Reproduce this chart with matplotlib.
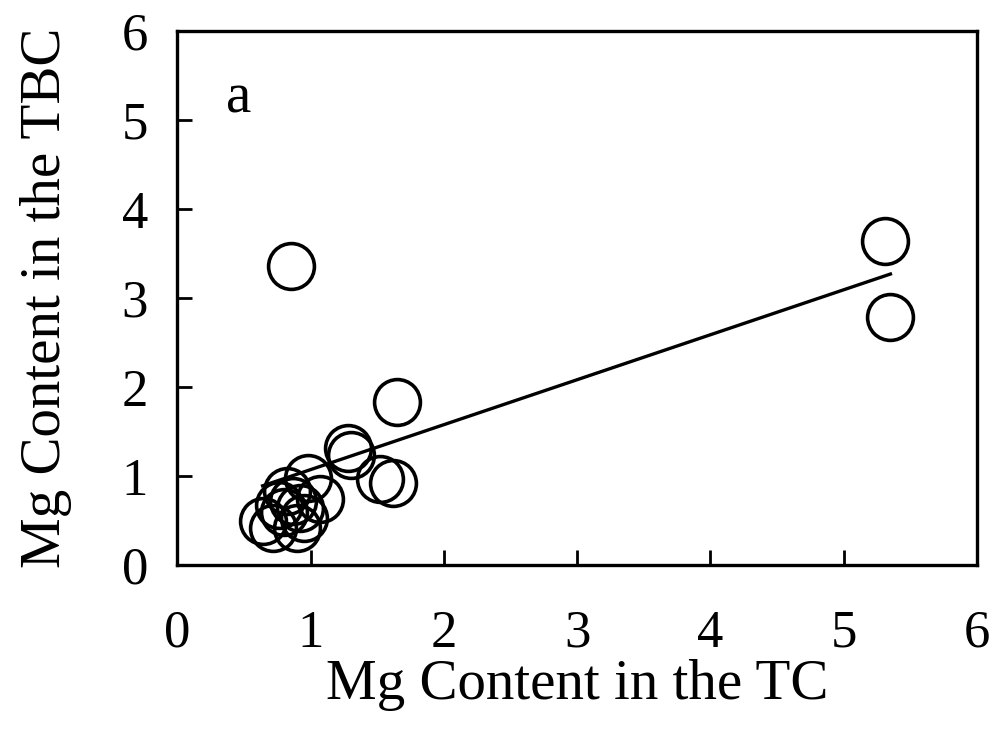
import matplotlib
matplotlib.use("Agg")
import matplotlib.pyplot as plt
import numpy as np

# Mg content: tissue culture (TC) vs. the TBC
mg_tc = [0.85, 5.31, 5.35, 1.65, 1.28, 1.30, 1.52, 1.62,
         0.64, 0.72, 0.98, 1.07, 0.87, 0.82, 0.90, 0.95, 0.80, 0.76, 0.92]
mg_tbc = [3.36, 3.64, 2.79, 1.84, 1.32, 1.24, 0.97, 0.92,
          0.50, 0.42, 0.98, 0.74, 0.72, 0.83, 0.42, 0.53, 0.60, 0.68, 0.64]

# Linear trend line
trend_slope = 0.505
trend_intercept = 0.57
trend_x = [0.64, 5.35]

x_ticks = [0, 1, 2, 3, 4, 5, 6]
y_ticks = [0, 1, 2, 3, 4, 5, 6]

plt.rcParams['font.family'] = ['Liberation Serif', 'DejaVu Serif']

fig = plt.figure(figsize=(9.96, 7.4), dpi=100)
ax = fig.add_axes([0.178, 0.236, 0.803, 0.722])

ax.plot(mg_tc, mg_tbc, linestyle='none', marker='o', markersize=33,
        markerfacecolor='none', markeredgecolor='black', markeredgewidth=2.6,
        clip_on=False)

tx = np.array(trend_x)
ax.plot(tx, trend_slope * tx + trend_intercept, color='black', linewidth=2.4)

ax.set_xlim(0, 6)
ax.set_ylim(0, 6)
ax.set_xticks(x_ticks)
ax.set_yticks(y_ticks)
ax.tick_params(direction='in', length=11, width=2, labelsize=38)
ax.tick_params(axis='x', pad=32)
ax.tick_params(axis='y', pad=21)
for s in ax.spines.values():
    s.set_linewidth(2.4)

ax.set_xlabel('Mg Content in the TC', fontsize=41, labelpad=1)
ax.set_ylabel('Mg Content in the TBC', fontsize=41, labelpad=36)
ax.text(0.061, 0.847, 'a', transform=ax.transAxes, fontsize=41)

fig.savefig('out.png', dpi=100)
